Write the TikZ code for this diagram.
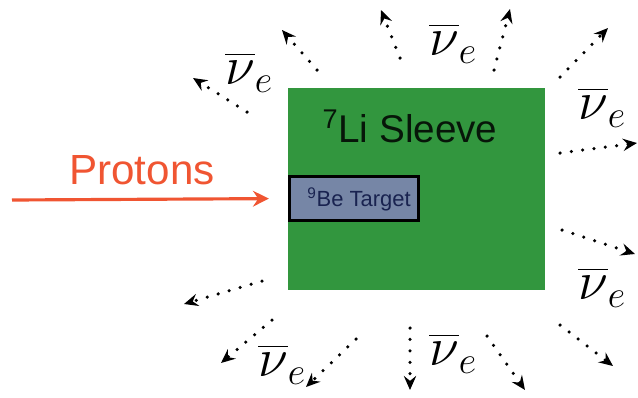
\documentclass[tikz,border=0pt]{standalone}
\usepackage{fix-cm}
\usepackage{amsmath}
\usepackage{fontspec}
\newfontfamily\lssans{Liberation Sans}
\usepackage{tikz}
\usetikzlibrary{arrows.meta,positioning}
\definecolor{lsgreen}{RGB}{50,150,62}
\definecolor{lstarget}{RGB}{118,134,166}
\definecolor{lsnavy}{RGB}{25,35,80}
\definecolor{lsred}{RGB}{240,85,50}
\tikzset{
  lssleeve/.style={rectangle, fill=lsgreen, inner sep=0pt, minimum width=5.14cm, minimum height=4.04cm},
  lstgtbox/.style={draw=black, line width=1.6pt, rectangle, fill=lstarget, inner sep=0pt, minimum width=2.58cm, minimum height=0.88cm},
  lsnu/.style={-{Stealth[length=8pt,width=7pt,inset=2.8pt]}, line width=2pt, line cap=round, dash pattern=on 0pt off 6.5pt},
  lsbeam/.style={-{Stealth[length=9pt,width=9pt,inset=3pt]}, line width=1.8pt, draw=lsred},
  lsnulabel/.style={inner sep=0pt, font=\fontsize{31}{33}\selectfont},
}
\newcommand{\LSnubar}{$\overline{\nu}_{e}$}

\begin{document}
\begin{tikzpicture}[x=0.02cm,y=-0.02cm]
  \useasboundingbox (0,0) rectangle (638,397);

  % sleeve and target
  \node[lssleeve] (sleeve) at (416.5,189) {};
  \node[font=\lssans\fontsize{22}{24}\selectfont, text=black!85!lsgreen] (sleevetxt) at (410,126) {\textsuperscript{7}Li Sleeve};
  \node[lstgtbox] (tgt) at (354,198.5) {};
  \node[font=\lssans\fontsize{12.5}{14}\selectfont, text=lsnavy] (tgttxt) at (359,199.5) {\textsuperscript{9}Be Target};

  % proton beam
  \node[font=\lssans\fontsize{24}{26}\selectfont, text=lsred] (protons) at (142,170) {Protons};
  \coordinate (beamstart) at (12,200);
  \draw[lsbeam, shorten >=11pt] (beamstart) -- (tgt.west);

  % antineutrinos
  \foreach \i/\sx/\sy/\ex/\ey in {1/247/112/193/78, 2/317/70/282/30, 3/400/58/381/10,
      4/494/70/510/9, 5/560/77/608/28, 6/560/153/637/143, 7/562/230/635/254,
      8/560/325/613/366, 9/487/336/525/390, 10/410/328/410/390, 11/356/339/306/387,
      12/272/320/221/363, 13/262/281/184/304}{
    \coordinate (nus\i) at (\sx,\sy);
    \coordinate (nue\i) at (\ex,\ey);
    \draw[lsnu] (nus\i) -- (nue\i);
  }

  \node[lsnulabel] (nu1) at (249,72) {\LSnubar};
  \node[lsnulabel] (nu2) at (453,43) {\LSnubar};
  \node[lsnulabel] (nu3) at (602,107) {\LSnubar};
  \node[lsnulabel] (nu4) at (602,287) {\LSnubar};
  \node[lsnulabel] (nu5) at (453,353) {\LSnubar};
  \node[lsnulabel] (nu6) at (282,364) {\LSnubar};
\end{tikzpicture}
\end{document}
